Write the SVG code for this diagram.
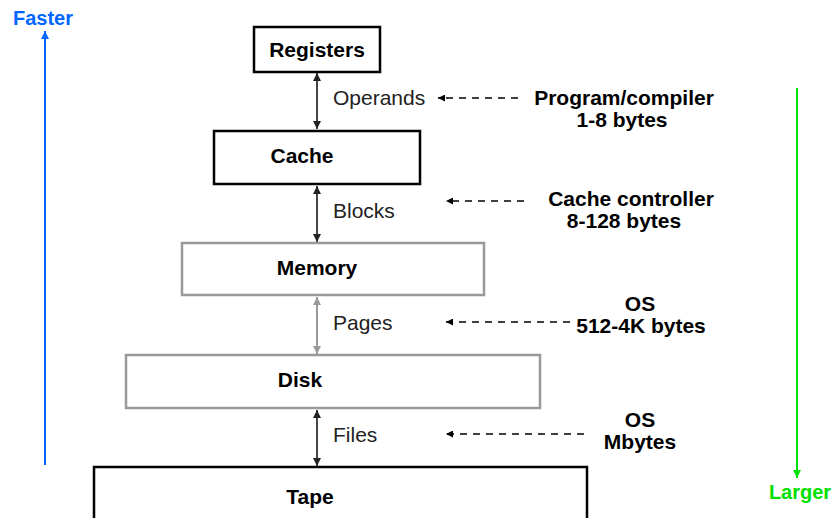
<svg xmlns="http://www.w3.org/2000/svg" width="834" height="518" viewBox="0 0 834 518">
<style>
.box{fill:#fff;stroke:#000;stroke-width:2.5}
.gbox{fill:#fff;stroke:#999;stroke-width:2.5}
.bl{font-family:"Liberation Sans",Arial,sans-serif;font-weight:bold;font-size:21px;fill:#000;text-anchor:middle}
.el{font-family:"Liberation Sans",Arial,sans-serif;font-size:21px;fill:#222}
.rl{font-family:"Liberation Sans",Arial,sans-serif;font-weight:bold;font-size:21px;fill:#000;text-anchor:middle}
.link{stroke:#333;stroke-width:1.8;fill:none}
.glink{stroke:#999;stroke-width:2;fill:none}
.dash{stroke:#000;stroke-width:1.6;stroke-dasharray:7,6;fill:none}
</style>
<defs>
<marker id="ah" viewBox="0 0 10 10" refX="10" refY="5" markerWidth="8" markerHeight="8" markerUnits="userSpaceOnUse" orient="auto-start-reverse"><path d="M0,0L10,5L0,10z" fill="#222"/></marker>
<marker id="gah" viewBox="0 0 10 10" refX="10" refY="5" markerWidth="8" markerHeight="8" markerUnits="userSpaceOnUse" orient="auto-start-reverse"><path d="M0,0L10,5L0,10z" fill="#999"/></marker>
<marker id="dah" viewBox="0 0 10 10" refX="10" refY="5" markerWidth="8" markerHeight="7" markerUnits="userSpaceOnUse" orient="auto"><path d="M0,0L10,5L0,10z" fill="#000"/></marker>
<marker id="bah" viewBox="0 0 10 10" refX="10" refY="5" markerWidth="9" markerHeight="8" markerUnits="userSpaceOnUse" orient="auto"><path d="M0,0L10,5L0,10z" fill="#0066FF"/></marker>
<marker id="grah" viewBox="0 0 10 10" refX="10" refY="5" markerWidth="9" markerHeight="8" markerUnits="userSpaceOnUse" orient="auto"><path d="M0,0L10,5L0,10z" fill="#00E000"/></marker>
</defs>

<g id="speed">
<line x1="45" y1="465" x2="45" y2="31" stroke="#0066FF" stroke-width="2" marker-end="url(#bah)"/>
<text x="43" y="25" font-family="'Liberation Sans',Arial,sans-serif" font-weight="bold" font-size="20" fill="#0066FF" text-anchor="middle">Faster</text>
</g>
<g id="size">
<line x1="797" y1="88" x2="797" y2="478" stroke="#00E000" stroke-width="2" marker-end="url(#grah)"/>
<text x="800" y="499" font-family="'Liberation Sans',Arial,sans-serif" font-weight="bold" font-size="20" fill="#00E000" text-anchor="middle">Larger</text>
</g>

<g id="connectors">
<line class="link" x1="317" y1="73" x2="317" y2="129" marker-start="url(#ah)" marker-end="url(#ah)"/>
<line class="link" x1="317" y1="186" x2="317" y2="242" marker-start="url(#ah)" marker-end="url(#ah)"/>
<line class="glink" x1="317" y1="297" x2="317" y2="354" marker-start="url(#gah)" marker-end="url(#gah)"/>
<line class="link" x1="317" y1="410" x2="317" y2="466" marker-start="url(#ah)" marker-end="url(#ah)"/>
<line class="dash" x1="518" y1="98" x2="438" y2="98" marker-end="url(#dah)"/>
<line class="dash" x1="524" y1="201" x2="446" y2="201" marker-end="url(#dah)"/>
<line class="dash" x1="570" y1="322" x2="446" y2="322" marker-end="url(#dah)"/>
<line class="dash" x1="584" y1="434" x2="446" y2="434" marker-end="url(#dah)"/>
<text class="el" x="333" y="105">Operands</text>
<text class="el" x="333" y="218">Blocks</text>
<text class="el" x="333" y="330">Pages</text>
<text class="el" x="333" y="442">Files</text>
</g>

<g id="registers">
<rect class="box" x="254" y="27" width="126" height="45"/>
<text class="bl" x="317" y="57">Registers</text>
</g>
<g id="cache">
<rect class="box" x="214" y="131" width="206" height="53"/>
<text class="bl" x="302" y="163">Cache</text>
</g>
<g id="memory">
<rect class="gbox" x="182" y="243" width="302" height="52"/>
<text class="bl" x="317" y="275">Memory</text>
</g>
<g id="disk">
<rect class="gbox" x="126" y="355" width="414" height="53"/>
<text class="bl" x="300" y="387">Disk</text>
</g>
<g id="tape">
<rect class="box" x="94" y="467" width="493" height="70"/>
<text class="bl" x="310" y="504">Tape</text>
</g>

<g id="annotations">
<text class="rl" x="624" y="105">Program/compiler</text>
<text class="rl" x="622" y="127">1-8 bytes</text>
<text class="rl" x="631" y="206">Cache controller</text>
<text class="rl" x="624" y="228">8-128 bytes</text>
<text class="rl" x="640" y="311">OS</text>
<text class="rl" x="641" y="333">512-4K bytes</text>
<text class="rl" x="640" y="427">OS</text>
<text class="rl" x="640" y="449">Mbytes</text>
</g>
</svg>
